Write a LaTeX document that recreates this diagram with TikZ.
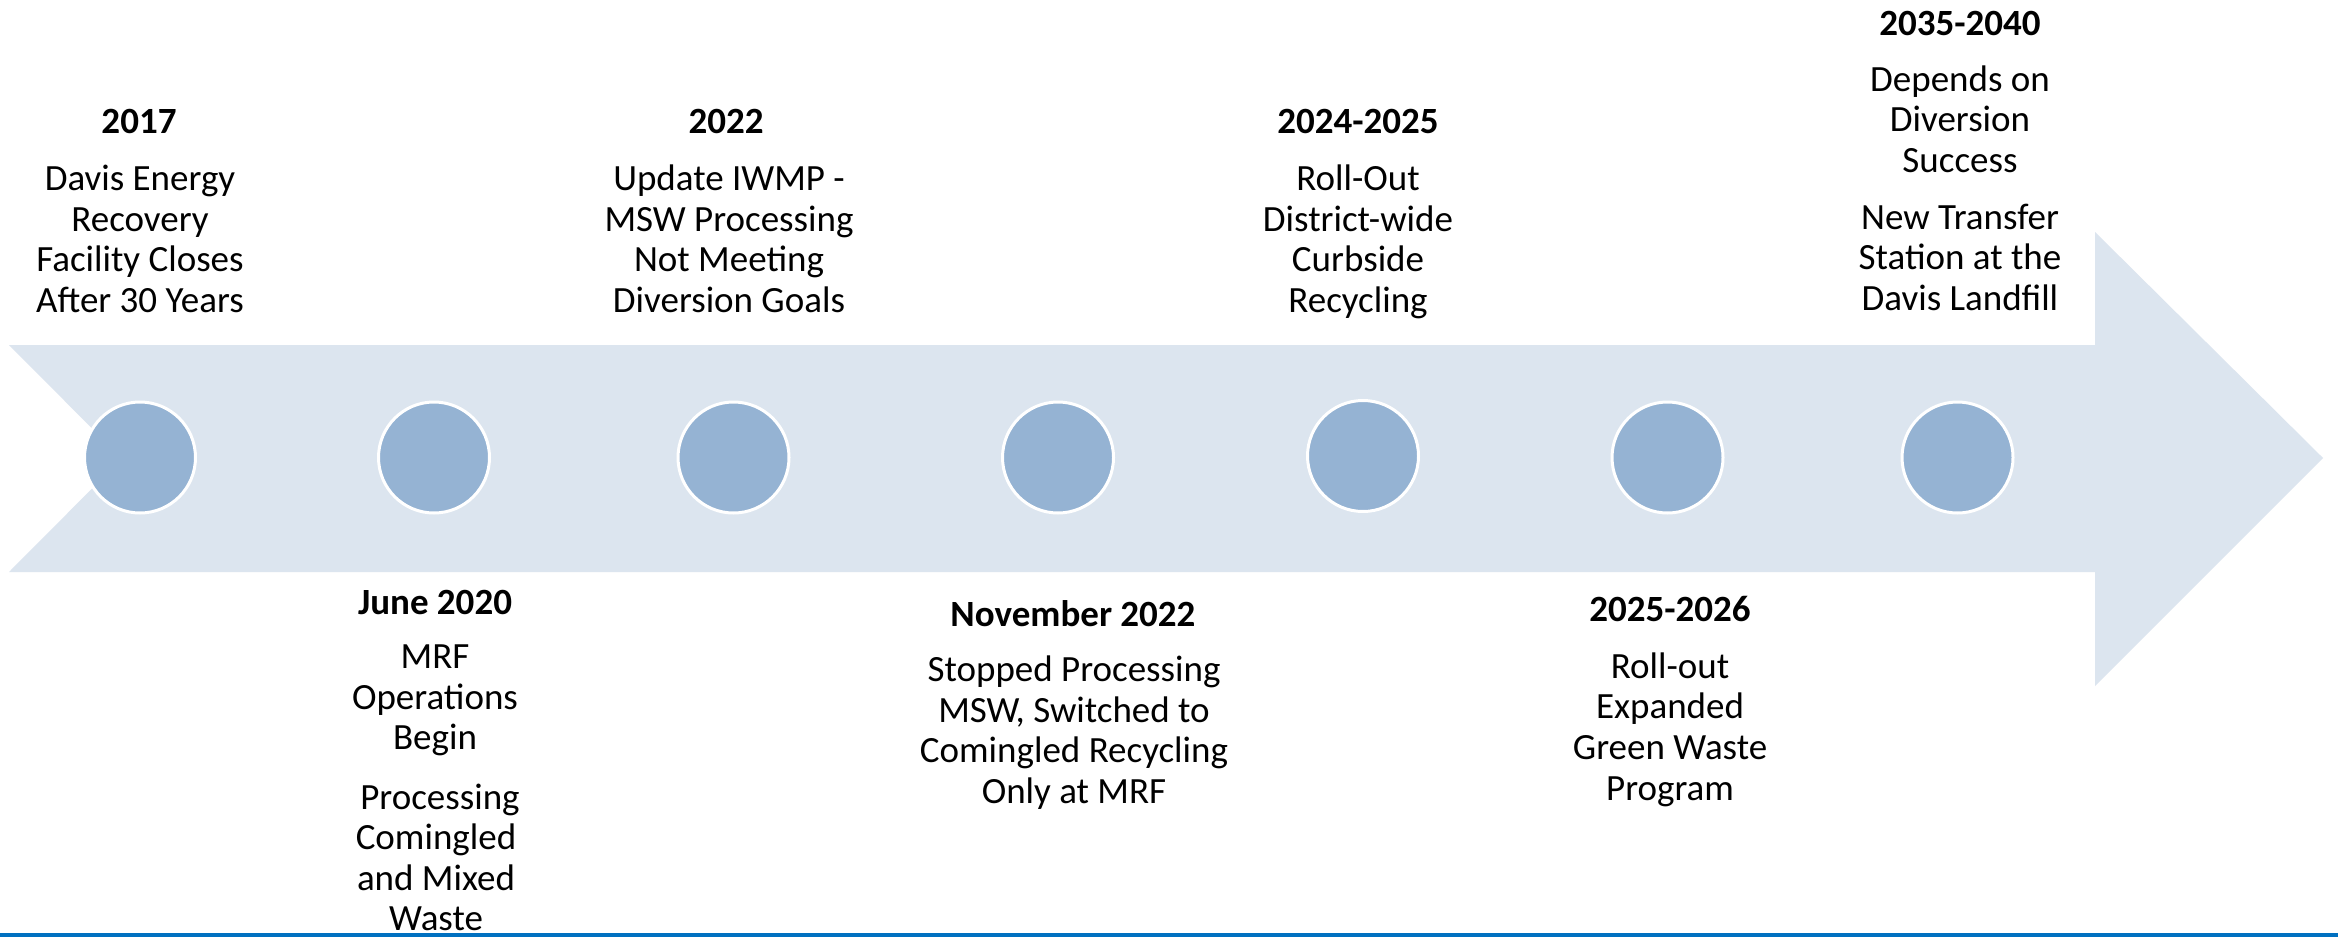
\documentclass[tikz,border=0pt]{standalone}
\usepackage{fontspec}
\setmainfont{Carlito}
\definecolor{arrowfill}{RGB}{220,229,239}
\definecolor{dotfill}{RGB}{149,179,211}
\definecolor{bandblue}{RGB}{0,112,192}
\begin{document}
\begin{tikzpicture}[x=0.5pt,y=-0.5pt,
  dot/.style={circle,fill=dotfill,draw=white,line width=1.5pt,minimum size=55.5pt,inner sep=0pt},
  yr/.style={anchor=north,inner sep=0pt,font=\fontsize{18.5}{20.3}\selectfont\bfseries,align=center,execute at begin node=\strut},
  txt/.style={anchor=north,inner sep=0pt,font=\fontsize{18.5}{20.3}\selectfont,align=center,execute at begin node=\strut}]
\useasboundingbox (0,0) rectangle (2338,937);
\fill[white] (0,0) rectangle (2338,937);
% timeline arrow
\fill[arrowfill] (9,345) -- (2095,345) -- (2095,232) -- (2323,458) -- (2095,686)
  -- (2095,572) -- (9,572) -- (122,458.5) -- cycle;
% milestones
\node[dot] (c1) at (140,457.5) {};
\node[dot] (c2) at (434,457.5) {};
\node[dot] (c3) at (733.5,457.5) {};
\node[dot] (c4) at (1058,457.5) {};
\node[dot] (c5) at (1363,456) {};
\node[dot] (c6) at (1667.5,457.5) {};
\node[dot] (c7) at (1957.5,457.5) {};
% top labels
\node[yr] (y1) at (139,105) {2017};
\node[txt] (b1) at (140,164.6) {Davis Energy\\Recovery\\Facility Closes\\After 30 Years};
\node[yr] (y3) at (726,105) {2022};
\node[txt] (b3) at (729,164.6) {Update IWMP -\\MSW Processing\\Not Meeting\\Diversion Goals};
\node[yr] (y5) at (1358,105) {2024-2025};
\node[txt] (b5) at (1358,164.6) {Roll-Out\\District-wide\\Curbside\\Recycling};
\node[yr] (y7) at (1960,6.6) {2035-2040};
\node[txt] (b7a) at (1960,65) {Depends on\\Diversion\\Success};
\node[txt] (b7b) at (1960,203.3) {New Transfer\\Station at the\\Davis Landfill};
% bottom labels
\node[yr] (y2) at (435,586) {June 2020};
\node[txt] (b2a) at (435,644.3) {MRF\\Operations\\Begin};
\node[txt] (b2b) at (436,783.3) {\hspace*{4pt}Processing\\Comingled\\and Mixed\\Waste};
\node[yr] (y4) at (1073,597.3) {November 2022};
\node[txt] (b4) at (1074,655.3) {Stopped Processing\\MSW, Switched to\\Comingled Recycling\\Only at MRF};
\node[yr] (y6) at (1670,592.9) {2025-2026};
\node[txt] (b6) at (1670,652.1) {Roll-out\\Expanded\\Green Waste\\Program};
% bottom rule
\fill[bandblue] (0,933) rectangle (2338,937);
\end{tikzpicture}
\end{document}
